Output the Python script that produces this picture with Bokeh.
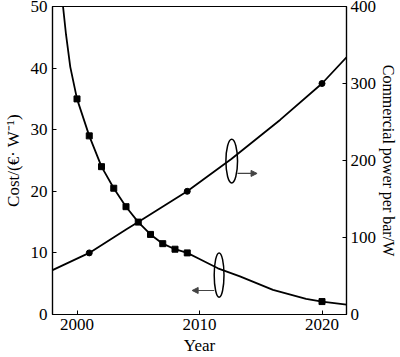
from bokeh.plotting import figure
from bokeh.models import Range1d, LinearAxis, Arrow, NormalHead, ColumnDataSource, FixedTicker
from bokeh.embed import file_html
from bokeh.resources import INLINE

# ---- data ----
cost_curve_year = [1998.86, 1999.1, 1999.45, 2000, 2001, 2002, 2003, 2004, 2005, 2006,
                   2007, 2008, 2009, 2010, 2011.5, 2013.3, 2016.0, 2018.7, 2020, 2022]
cost_curve_val = [50, 45.5, 40.2, 35, 29, 24, 20.5, 17.5, 15, 13,
                  11.5, 10.6, 10, 9.0, 7.5, 6.2, 4.0, 2.55, 2.1, 1.6]
cost_mark_year = [2000, 2001, 2002, 2003, 2004, 2005, 2006, 2007, 2008, 2009, 2020]
cost_mark_val = [35, 29, 24, 20.5, 17.5, 15, 13, 11.5, 10.6, 10, 2.1]

power_curve_year = [1998, 2001, 2004.07, 2005, 2009, 2012.6, 2016.6, 2020, 2022]
power_curve_val = [57.6, 80, 111, 120, 160, 202, 253, 300, 334]
power_mark_year = [2001, 2009, 2020]
power_mark_val = [80, 160, 300]

x_ticks = [2000, 2010, 2020]
cost_ticks = [0, 10, 20, 30, 40, 50]
power_ticks = [0, 100, 200, 300, 400]

FONT = "Liberation Serif"

p = figure(width=400, height=357, output_backend="svg", toolbar_location=None,
           x_range=Range1d(1998, 2022), y_range=Range1d(0, 50),
           min_border_left=10, min_border_right=10, min_border_top=6, min_border_bottom=10)
p.extra_y_ranges = {"power": Range1d(0, 400)}
p.grid.visible = False
p.outline_line_color = "black"
p.outline_line_width = 1.2
p.background_fill_color = "white"
p.border_fill_color = "white"

def style_axis(ax, label, standoff_label, standoff_title, title_size="17px"):
    ax.axis_label = label
    ax.axis_label_text_font = FONT
    ax.axis_label_text_font_style = "normal"
    ax.axis_label_text_font_size = title_size
    ax.axis_label_text_color = "black"
    ax.major_label_text_font = FONT
    ax.major_label_text_font_size = "17px"
    ax.major_label_text_color = "black"
    ax.axis_line_color = "black"
    ax.axis_line_width = 1.2
    ax.major_tick_in = 4
    ax.major_tick_out = 0
    ax.major_tick_line_color = "black"
    ax.minor_tick_line_color = None
    ax.major_label_standoff = standoff_label
    ax.axis_label_standoff = standoff_title

p.xaxis.ticker = FixedTicker(ticks=x_ticks)
p.yaxis.ticker = FixedTicker(ticks=cost_ticks)
style_axis(p.xaxis[0], "Year", 4, 3)
style_axis(p.yaxis[0], "Cost/(€· W⁻¹)", 5, 5)

right = LinearAxis(y_range_name="power", ticker=FixedTicker(ticks=power_ticks))
style_axis(right, "Commercial power per bar/W", 4, 1, "16px")
p.add_layout(right, "right")

cost_line = ColumnDataSource(dict(x=cost_curve_year, y=cost_curve_val))
cost_pts = ColumnDataSource(dict(x=cost_mark_year, y=cost_mark_val))
pow_line = ColumnDataSource(dict(x=power_curve_year, y=power_curve_val))
pow_pts = ColumnDataSource(dict(x=power_mark_year, y=power_mark_val))

p.line("x", "y", source=cost_line, line_color="black", line_width=1.8)
p.scatter("x", "y", source=cost_pts, marker="square", size=6, color="black")
p.line("x", "y", source=pow_line, line_color="black", line_width=1.8, y_range_name="power")
p.scatter("x", "y", source=pow_pts, marker="circle", size=6, color="black", y_range_name="power")

# annotations: ellipses and arrows
p.ellipse(x=[2012.63], y=[24.9], width=[0.95], height=[7.07],
          fill_color=None, line_color="black", line_width=1.5)
p.ellipse(x=[2011.6], y=[6.4], width=[0.8], height=[7.2],
          fill_color=None, line_color="black", line_width=1.5)
p.add_layout(Arrow(end=NormalHead(size=6, fill_color="#444", line_color="#444"),
                   x_start=2013.1, y_start=22.9, x_end=2014.7, y_end=22.9,
                   line_color="#444", line_width=1.2))
p.add_layout(Arrow(end=NormalHead(size=6, fill_color="#444", line_color="#444"),
                   x_start=2011.2, y_start=3.9, x_end=2009.4, y_end=3.9,
                   line_color="#444", line_width=1.2))

open("out.html", "w").write(file_html(p, INLINE))
